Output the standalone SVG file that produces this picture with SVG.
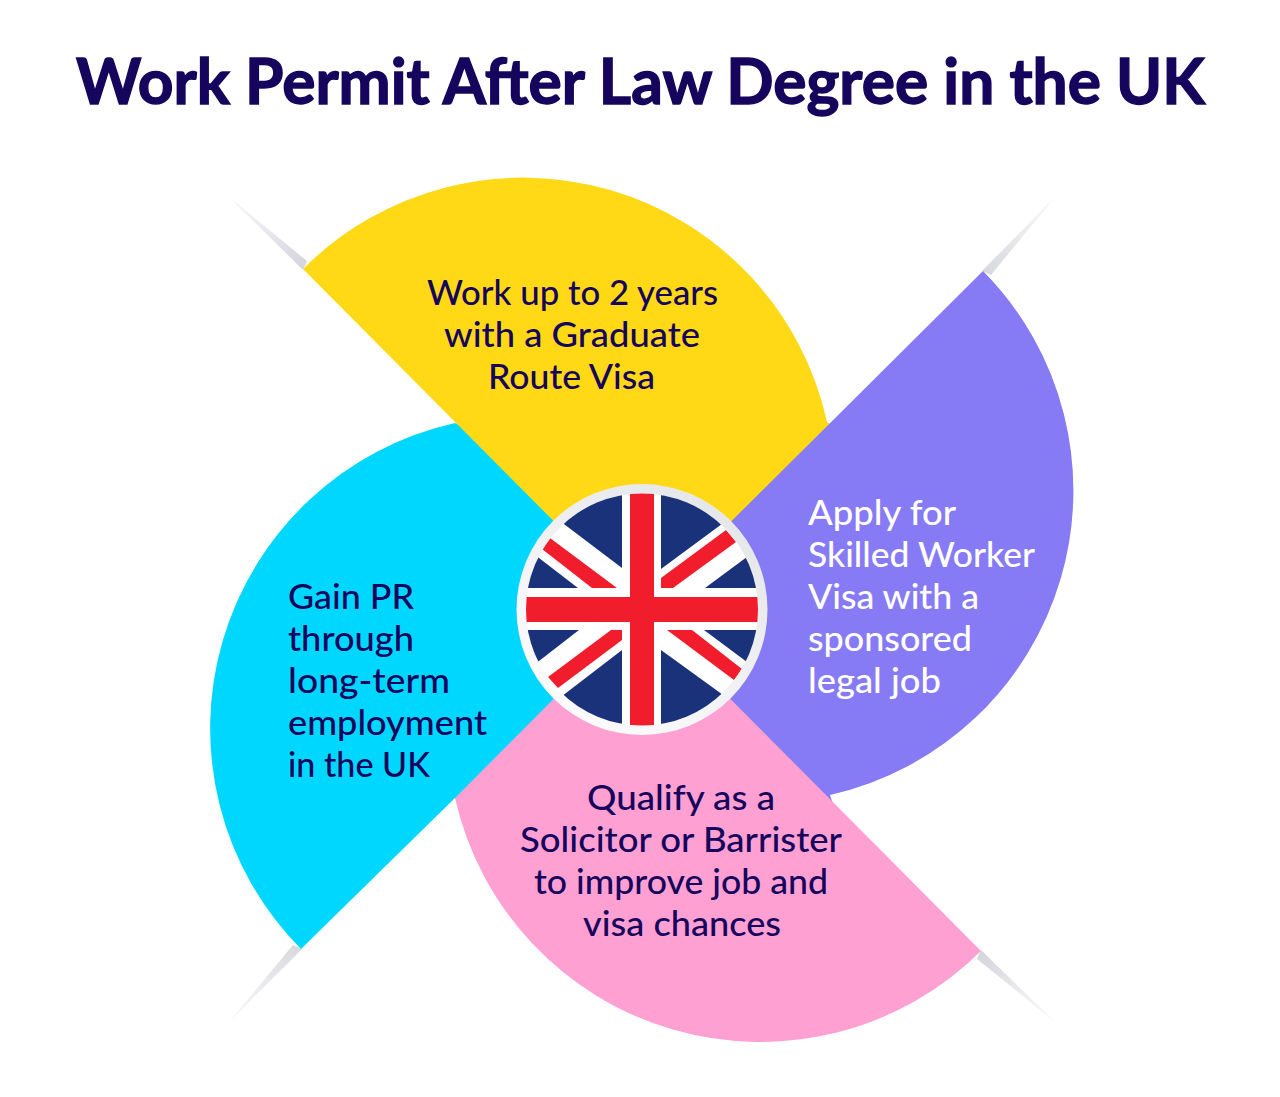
<svg xmlns="http://www.w3.org/2000/svg" width="1280" height="1097" viewBox="0 0 1280 1097">
<style>
text{font-family:"Lato","Noto Sans","Liberation Sans",sans-serif;fill:#16055c;font-size:35px;font-weight:500}
.t{font-size:63px;font-weight:700;stroke:#16055c;stroke-width:1.4px}
.w{fill:#fff}
.b{fill:#1a327a}.r{fill:#f11d2c}
</style>
<defs>
<linearGradient id="s1" gradientUnits="userSpaceOnUse" x1="305" y1="265" x2="229" y2="198"><stop offset="0" stop-color="#d4d5dd"/><stop offset="0.6" stop-color="#ececf1"/><stop offset="1" stop-color="#f7f2f5"/></linearGradient>
<linearGradient id="s2" gradientUnits="userSpaceOnUse" x1="979" y1="955" x2="1055" y2="1022"><stop offset="0" stop-color="#d4d5da"/><stop offset="0.6" stop-color="#eeeef1"/><stop offset="1" stop-color="#f8f3f5"/></linearGradient>
<linearGradient id="s3" gradientUnits="userSpaceOnUse" x1="987" y1="273" x2="1054" y2="197"><stop offset="0" stop-color="#d8d9dd"/><stop offset="0.6" stop-color="#eeeef1"/><stop offset="1" stop-color="#f8f4f6"/></linearGradient>
<linearGradient id="s4" gradientUnits="userSpaceOnUse" x1="297" y1="946" x2="230" y2="1023"><stop offset="0" stop-color="#d8d9dd"/><stop offset="0.6" stop-color="#eeeef1"/><stop offset="1" stop-color="#f8f4f6"/></linearGradient>
<linearGradient id="ring" x1="0.8" y1="0.1" x2="0.2" y2="0.9"><stop offset="0" stop-color="#e6e7ea"/><stop offset="1" stop-color="#fbfbfc"/></linearGradient>
<clipPath id="fc"><circle cx="642" cy="609.5" r="116"/></clipPath>
</defs>
<rect width="1280" height="1097" fill="#fff"/>
<g id="title"><text class="t" x="76" y="104" textLength="1129" lengthAdjust="spacingAndGlyphs">Work Permit After Law Degree in the UK</text></g>
<g id="connectors">
<polygon points="229,197 307,261 303,270" fill="url(#s1)"/>
<polygon points="1055,197 991,275 982,271" fill="url(#s3)"/>
<polygon points="1055,1022 977,959 981,950" fill="url(#s2)"/>
<polygon points="229,1022 293,945 302,949" fill="url(#s4)"/>
</g>
<g id="node-cyan">
<path d="M301,949A313,313 0 0 1 455,423L470,430L650,600L650,650L470,800L455,798Z" fill="#00d7ff"/>
<text x="288" y="609" textLength="126" lengthAdjust="spacingAndGlyphs">Gain PR</text>
<text x="288" y="651" textLength="126" lengthAdjust="spacingAndGlyphs">through</text>
<text x="288" y="693" textLength="162" lengthAdjust="spacingAndGlyphs">long-term</text>
<text x="288" y="735" textLength="199" lengthAdjust="spacingAndGlyphs">employment</text>
<text x="288" y="777" textLength="142" lengthAdjust="spacingAndGlyphs">in the UK</text>
</g>
<g id="node-yellow">
<path d="M642,610L303,269A311,311 0 0 1 827,422L840,430L650,600Z" fill="#ffd916"/>
<text x="427" y="305" textLength="291" lengthAdjust="spacingAndGlyphs">Work up to 2 years</text>
<text x="444" y="347" textLength="256" lengthAdjust="spacingAndGlyphs">with a Graduate</text>
<text x="488" y="389" textLength="167" lengthAdjust="spacingAndGlyphs">Route Visa</text>
</g>
<g id="node-purple">
<path d="M642,610L983,271A312,312 0 0 1 830,795L835,810L650,620Z" fill="#877bf5"/>
<text class="w" x="808" y="525" textLength="148" lengthAdjust="spacingAndGlyphs">Apply for</text>
<text class="w" x="808" y="567" textLength="227" lengthAdjust="spacingAndGlyphs">Skilled Worker</text>
<text class="w" x="808" y="609" textLength="171" lengthAdjust="spacingAndGlyphs">Visa with a</text>
<text class="w" x="808" y="651" textLength="164" lengthAdjust="spacingAndGlyphs">sponsored</text>
<text class="w" x="808" y="693" textLength="133" lengthAdjust="spacingAndGlyphs">legal job</text>
</g>
<g id="node-pink">
<path d="M642,610L981,951A313,313 0 0 1 455,798Z" fill="#ffa0d2"/>
<text x="587" y="810" textLength="188" lengthAdjust="spacingAndGlyphs">Qualify as a</text>
<text x="520" y="852" textLength="322" lengthAdjust="spacingAndGlyphs">Solicitor or Barrister</text>
<text x="534" y="894" textLength="294" lengthAdjust="spacingAndGlyphs">to improve job and</text>
<text x="583" y="936" textLength="198" lengthAdjust="spacingAndGlyphs">visa chances</text>
</g>
<g id="node-flag">
<circle cx="642" cy="609.5" r="125.5" fill="url(#ring)"/>
<circle cx="642" cy="609.5" r="116" fill="#fff"/>
<g clip-path="url(#fc)">
<polygon class="b" points="622,568 552,515 622,470"/>
<polygon class="b" points="578,588 539,558 510,538 510,588"/>
<polygon class="b" points="661,569 730,518 661,470"/>
<polygon class="b" points="705,588 755,551 770,588"/>
<polygon class="b" points="579,630 530,668 510,630"/>
<polygon class="b" points="622,650 553,703 622,750"/>
<polygon class="b" points="704,630 755,668 770,630"/>
<polygon class="b" points="661,650 730,700 661,750"/>
<polygon class="r" points="542,549 550,538 617,588 592,588"/>
<polygon class="r" points="726,530 736,542 673,588 661,588 661,578"/>
<polygon class="r" points="548,677 558,688 622,640 622,630 611,630"/>
<polygon class="r" points="667,630 692,630 742,669 734,680"/>
<rect class="r" x="630" y="490" width="24" height="240"/>
<rect class="r" x="520" y="597" width="244" height="25"/>
</g>
</g>
</svg>
